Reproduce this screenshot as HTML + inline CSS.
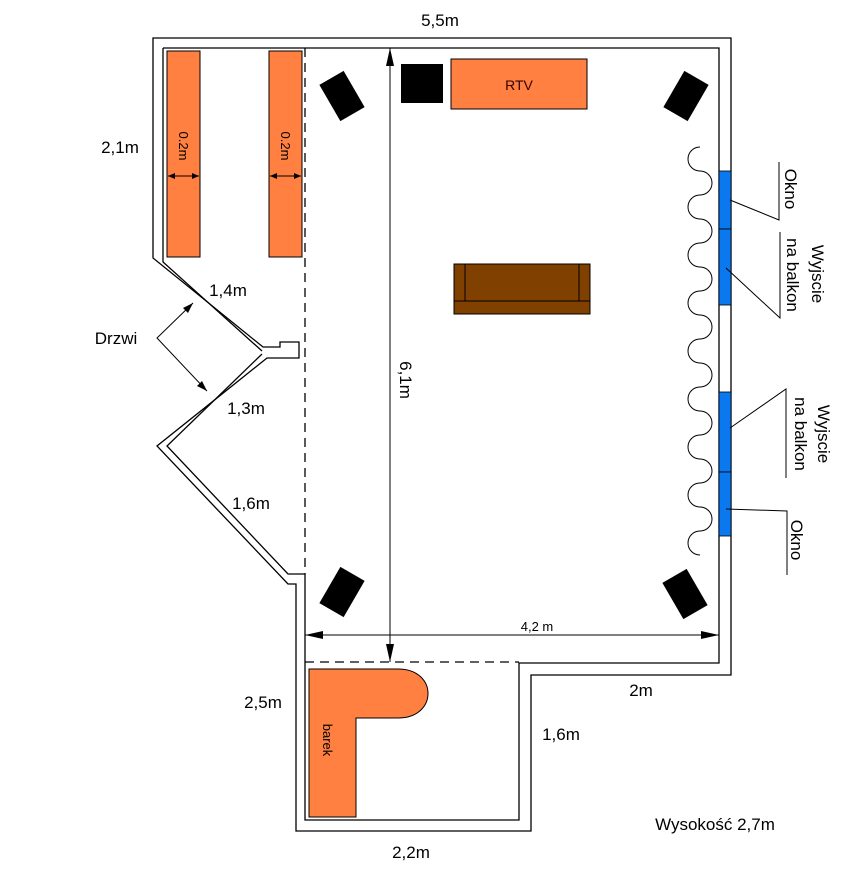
<!DOCTYPE html>
<html><head><meta charset="utf-8"><style>
html,body{margin:0;padding:0;background:#fff;}
svg{display:block;font-family:"Liberation Sans",sans-serif;}
</style></head><body>
<svg width="866" height="872" viewBox="0 0 866 872" xmlns="http://www.w3.org/2000/svg">
<rect width="866" height="872" fill="#fff"/>
<!-- walls -->
<path d="M153,38 L731,38 L731,675 L531,675 L531,831 L296,831 L296,584 L288,584 L157,446 L267,358 L299,358 L299,342 L280,342 L280,347 L263,347 L153,258 Z" fill="none" stroke="#000" stroke-width="1.3"/>
<path d="M163,48 L719,48 L719,663 L519,663 L519,820 L305,820 L305,574 L288,574 L167,446 L262,354 M262,351 L163,262 L163,48" fill="none" stroke="#000" stroke-width="1.3"/>
<!-- dashed -->
<line x1="305" y1="48" x2="305" y2="574" stroke="#000" stroke-width="1.3" stroke-dasharray="9,6"/>
<line x1="305" y1="662" x2="519" y2="662" stroke="#000" stroke-width="1.3" stroke-dasharray="9,6"/>
<!-- dimension arrows -->
<line x1="390" y1="662" x2="390" y2="48" stroke="#000"/>
<polygon points="390,48 386,66 394,66" fill="#000"/>
<polygon points="390,662 386,644 394,644" fill="#000"/>
<line x1="305" y1="635" x2="719" y2="635" stroke="#000"/>
<polygon points="305,635 323,631 323,639" fill="#000"/>
<polygon points="719,635 701,631 701,639" fill="#000"/>
<!-- radiators -->
<rect x="167" y="51" width="33" height="206" fill="#FF8040" stroke="#000"/>
<rect x="269" y="51" width="33" height="206" fill="#FF8040" stroke="#000"/>
<line x1="168" y1="176" x2="199" y2="176" stroke="#000"/>
<polygon points="168,176 175,173 175,179" fill="#000"/><polygon points="199,176 192,173 192,179" fill="#000"/>
<line x1="270" y1="176" x2="301" y2="176" stroke="#000"/>
<polygon points="270,176 277,173 277,179" fill="#000"/><polygon points="301,176 294,173 294,179" fill="#000"/>
<text transform="translate(179,146) rotate(90)" font-size="13" text-anchor="middle">0.2m</text>
<text transform="translate(281,146) rotate(90)" font-size="13" text-anchor="middle">0.2m</text>
<!-- speakers -->
<rect x="-14" y="-21" width="28" height="42" fill="#000" transform="translate(342,96) rotate(-30)"/>
<rect x="-14" y="-21" width="28" height="42" fill="#000" transform="translate(686,96) rotate(30)"/>
<rect x="-14" y="-21" width="28" height="42" fill="#000" transform="translate(342,592) rotate(30)"/>
<rect x="-14" y="-21" width="28" height="42" fill="#000" transform="translate(685,594) rotate(-30)"/>
<rect x="401" y="64" width="42" height="39" fill="#000"/>
<rect x="451" y="59" width="136" height="50" fill="#FF8040" stroke="#000"/>
<text x="519" y="90" font-size="14" text-anchor="middle" fill="#300">RTV</text>
<!-- sofa -->
<rect x="454" y="264" width="136" height="50" fill="#804000" stroke="#000"/>
<path d="M465,264 V301 M579,264 V301 M454,301 H590" stroke="#000" fill="none"/>
<!-- curtain -->
<path d="M700,147 a12,12 0 0,0 0,24 a12,12 0 0,1 0,24 a12,12 0 0,0 0,24 a12,12 0 0,1 0,24 a12,12 0 0,0 0,24 a12,12 0 0,1 0,24 a12,12 0 0,0 0,24 a12,12 0 0,1 0,24 a12,12 0 0,0 0,24 a12,12 0 0,1 0,24 a12,12 0 0,0 0,24 a12,12 0 0,1 0,24 a12,12 0 0,0 0,24 a12,12 0 0,1 0,24 a12,12 0 0,0 0,24 a12,12 0 0,1 0,24 a12,12 0 0,0 0,24" fill="none" stroke="#000" stroke-width="1"/>
<!-- windows -->
<rect x="719" y="171" width="12" height="58" fill="#0A78EE" stroke="#000" stroke-width="0.8"/>
<rect x="719" y="229" width="12" height="76" fill="#0A78EE" stroke="#000" stroke-width="0.8"/>
<rect x="719" y="392" width="12" height="80" fill="#0A78EE" stroke="#000" stroke-width="0.8"/>
<rect x="719" y="472" width="12" height="64" fill="#0A78EE" stroke="#000" stroke-width="0.8"/>
<!-- leaders -->
<path d="M730,200 L779,220 L779,162" fill="none" stroke="#000"/>
<path d="M726,268 L780,318 L780,232" fill="none" stroke="#000"/>
<path d="M730,428 L786,389 L786,478" fill="none" stroke="#000"/>
<path d="M726,509 L787,511 L787,575" fill="none" stroke="#000"/>
<g font-size="17">
<text transform="translate(785,189) rotate(90)" text-anchor="middle">Okno</text>
<text transform="translate(812,274) rotate(90)" text-anchor="middle">Wyjscie</text>
<text transform="translate(787,275) rotate(90)" text-anchor="middle">na balkon</text>
<text transform="translate(818,434) rotate(90)" text-anchor="middle">Wyjscie</text>
<text transform="translate(795,434) rotate(90)" text-anchor="middle">na balkon</text>
<text transform="translate(791,540) rotate(90)" text-anchor="middle">Okno</text>
<text transform="translate(400,380) rotate(90)" text-anchor="middle">6,1m</text>
</g>
<text x="537" y="631" font-size="13" text-anchor="middle">4,2 m</text>
<!-- barek -->
<path d="M309,669 L398,669 C438,669 438,718 398,718 L356,718 L356,817 L309,817 Z" fill="#FF8040" stroke="#000"/>
<text transform="translate(323,740) rotate(90)" font-size="13" text-anchor="middle">barek</text>
<!-- door arrows -->
<path d="M193,303 L157,338 L207,391" fill="none" stroke="#000"/>
<polygon points="193,303 183,308 188,313" fill="#000"/>
<polygon points="207,391 197,386 202,381" fill="#000"/>
<!-- labels -->
<g font-size="17">
<text x="440" y="26" text-anchor="middle">5,5m</text>
<text x="120" y="153" text-anchor="middle">2,1m</text>
<text x="228" y="296" text-anchor="middle">1,4m</text>
<text x="116" y="344" text-anchor="middle">Drzwi</text>
<text x="246" y="414" text-anchor="middle">1,3m</text>
<text x="251" y="509" text-anchor="middle">1,6m</text>
<text x="263" y="708" text-anchor="middle">2,5m</text>
<text x="641" y="696" text-anchor="middle">2m</text>
<text x="561" y="740" text-anchor="middle">1,6m</text>
<text x="411" y="858" text-anchor="middle">2,2m</text>
<text x="715" y="830" text-anchor="middle">Wysokość 2,7m</text>
</g>
</svg>
</body></html>
